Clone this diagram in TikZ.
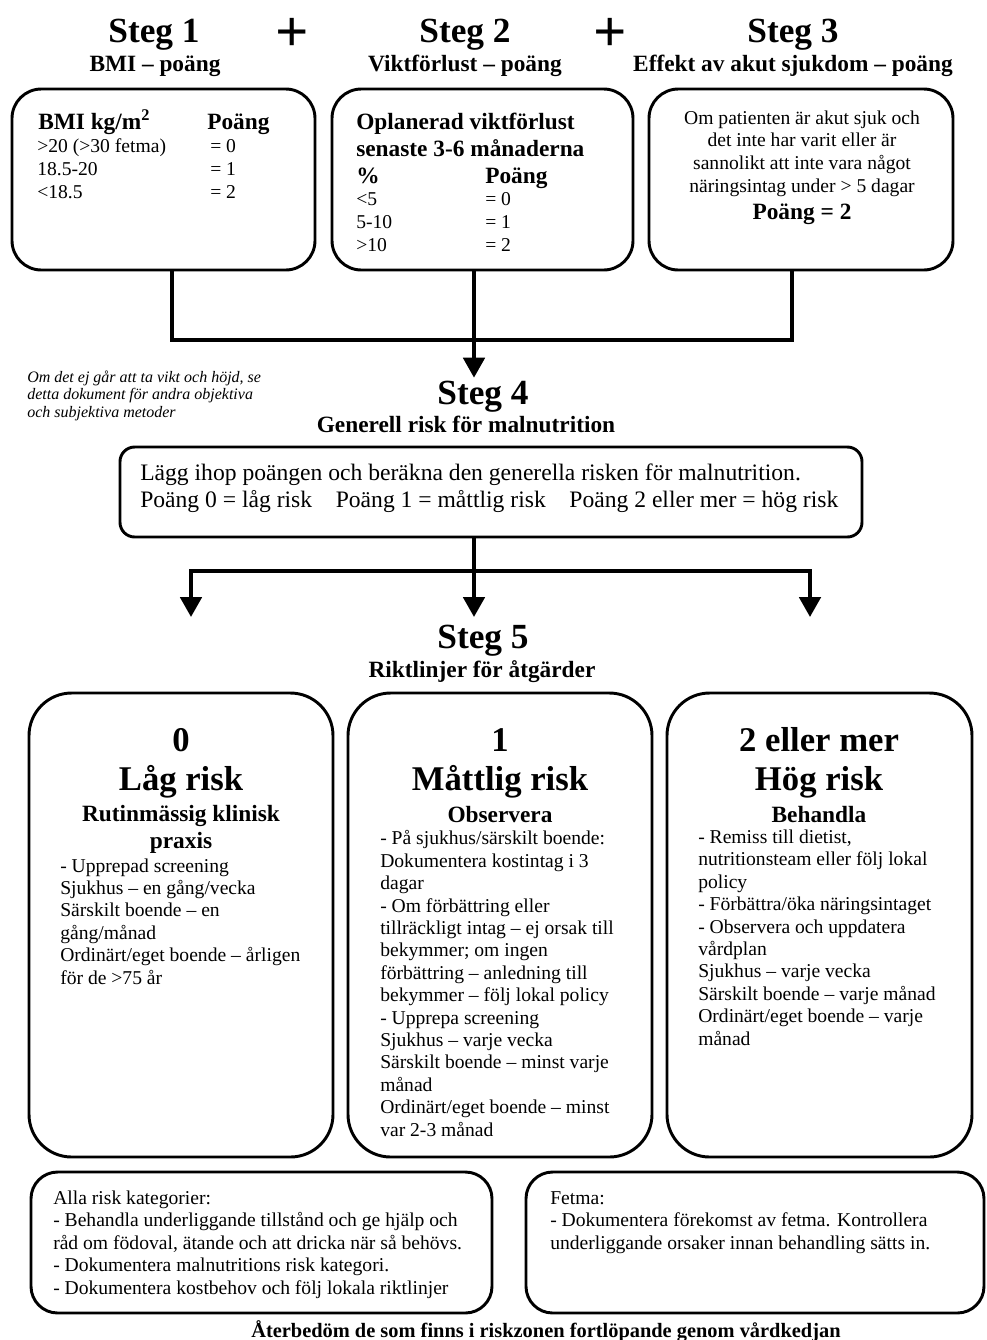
\documentclass[tikz,border=0pt]{standalone}
\usepackage{fontspec}
\setmainfont{Liberation Serif}
\usetikzlibrary{arrows.meta, positioning, fit}

\begin{document}
\begin{tikzpicture}[x=0.75pt, y=-0.75pt,
      >={Triangle[length=15pt, width=16pt]},
      box/.style={draw, line width=2.2pt, inner sep=0pt},
      link/.style={line width=3pt},
      hd/.style={font=\fontsize{26.5}{30}\selectfont\bfseries, inner sep=0pt, anchor=base},
      big/.style={font=\fontsize{26}{30}\selectfont\bfseries, inner sep=0pt, anchor=base},
      plus/.style={font=\fontsize{44}{48}\selectfont\bfseries, inner sep=0pt},
      sub/.style={font=\fontsize{17.5}{20}\selectfont\bfseries, inner sep=0pt, anchor=base},
      hdtxt/.style={font=\fontsize{17.5}{20}\selectfont\bfseries},
      rows/.style={font=\fontsize{14.7}{17.25}\selectfont},
      txt/.style={font=\fontsize{14.7}{16.8}\selectfont, inner sep=0pt, anchor=base west, align=left},
      note/.style={font=\fontsize{12}{13.1}\selectfont\itshape, inner sep=0pt, anchor=base west, align=left}]
    \useasboundingbox (0,0) rectangle (987,1340);
    % steg 1-3 (multi-line nodes are placed at their last baseline)
    \node[hd] (s1) at (154,42) {Steg 1};
    \node[hd] (s2) at (465,42) {Steg 2};
    \node[hd] (s3) at (793,42) {Steg 3};
    \node[plus] (p1) at (292,35) {+};
    \node[plus] (p2) at (610,35) {+};
    \node[sub] (s1t) at (155,71) {BMI – poäng};
    \node[sub] (s2t) at (465,71) {Viktförlust – poäng};
    \node[sub] (s3t) at (793,71) {Effekt av akut sjukdom – poäng};
    \node[box, rounded corners=22pt, fit={(12,89) (315,270)}] (bmi) {};
    \node[box, rounded corners=22pt, fit={(332,89) (633,270)}] (vikt) {};
    \node[box, rounded corners=22pt, fit={(649,89) (953,270)}] (eff) {};
    % BMI table
    \node[txt, hdtxt] (bmihd) at (38,129) {BMI kg/m\textsuperscript{2}};
    \node[txt, hdtxt] (bmipt) at (207,129) {Poäng};
    \node[txt, rows] (bmirows) at (37,198) {>20 (>30 fetma)\\18.5-20\\<18.5};
    \node[txt, rows] (bmival) at (210,198) {= 0\\= 1\\= 2};
    % viktforlust table
    \node[txt, hdtxt] (vkhd) at (356,183) {Oplanerad viktförlust\\senaste 3-6 månaderna\\\%};
    \node[txt, hdtxt] (vkpt) at (485,183) {Poäng};
    \node[txt, rows] (vkrows) at (356,251) {<5\\5-10\\>10};
    \node[txt, rows] (vkval) at (485,251) {= 0\\= 1\\= 2};
    % akut sjukdom
    \node[txt, anchor=base, align=center, font=\fontsize{14.7}{16.9}\selectfont] (efftxt) at (802,192) {Om patienten är akut sjuk och\\det inte har varit eller är\\sannolikt att inte vara något\\näringsintag under > 5 dagar};
    \node[sub] (effpt) at (802,219) {Poäng = 2};
    % join to steg 4
    \coordinate (jl) at (172,340);
    \coordinate (jm) at (474,340);
    \coordinate (jr) at (792,340);
    \draw[link] (bmi.south -| jl) -- (jl) -- (jr) -- (eff.south -| jr);
    \draw[link] (vikt.south -| jm) -- (jm);
    \node[note] (obs) at (27,417) {Om det ej går att ta vikt och höjd, se\\detta dokument för andra objektiva\\och subjektiva metoder};
    \node[hd, inner sep=2pt] (s4) at (483,404) {Steg 4};
    \draw[link, ->] (jm) -- (jm |- s4.north);
    \node[sub] (s4t) at (466,432) {Generell risk för malnutrition};
    \node[box, rounded corners=11pt, fit={(120,447) (862,537)}] (sum) {};
    \node[txt, font=\fontsize{17.7}{20.25}\selectfont] (sumtxt) at (140,507) {Lägg ihop poängen och beräkna den generella risken för malnutrition.\\Poäng 0 = låg risk\quad Poäng 1 = måttlig risk\quad Poäng 2 eller mer = hög risk};
    % split to steg 5
    \coordinate (kl) at (191,571);
    \coordinate (km) at (474,571);
    \coordinate (kr) at (810,571);
    \coordinate (al) at (191,617);
    \coordinate (am) at (474,617);
    \coordinate (ar) at (810,617);
    \draw[link, <->] (al) -- (kl) -- (kr) -- (ar);
    \draw[link, ->] (sum.south -| km) -- (am);
    \node[hd] (s5) at (483,648) {Steg 5};
    \node[sub] (s5t) at (482,677) {Riktlinjer för åtgärder};
    % risk boxes
    \node[box, rounded corners=32pt, fit={(29,693) (333,1157)}] (low) {};
    \node[box, rounded corners=32pt, fit={(348,693) (652,1157)}] (mid) {};
    \node[box, rounded corners=32pt, fit={(667,693) (972,1157)}] (high) {};
    \node[big] (low0) at (181,751) {0};
    \node[big] (lowt) at (181,790) {Låg risk};
    \node[sub, align=center] (lowh) at (181,848) {Rutinmässig klinisk\\praxis};
    \node[txt] (lowb) at (60,984) {- Upprepad screening\\Sjukhus – en gång/vecka\\Särskilt boende – en\\gång/månad\\Ordinärt/eget boende – årligen\\för de >75 år};
    \node[big] (mid1) at (500,751) {1};
    \node[big] (midt) at (500,790) {Måttlig risk};
    \node[sub] (midh) at (500,822) {Observera};
    \node[txt] (midb) at (380,1136) {- På sjukhus/särskilt boende:\\Dokumentera kostintag i 3\\dagar\\- Om förbättring eller\\tillräckligt intag – ej orsak till\\bekymmer; om ingen\\förbättring – anledning till\\bekymmer – följ lokal policy\\- Upprepa screening\\Sjukhus – varje vecka\\Särskilt boende – minst varje\\månad\\Ordinärt/eget boende – minst\\var 2-3 månad};
    \node[big] (high2) at (819,751) {2 eller mer};
    \node[big] (hight) at (819,790) {Hög risk};
    \node[sub] (highh) at (819,822) {Behandla};
    \node[txt] (highb) at (698,1045) {- Remiss till dietist,\\nutritionsteam eller följ lokal\\policy\\- Förbättra/öka näringsintaget\\- Observera och uppdatera\\vårdplan\\Sjukhus – varje vecka\\Särskilt boende – varje månad\\Ordinärt/eget boende – varje\\månad};
    % bottom notes
    \node[box, rounded corners=20pt, fit={(31,1172) (492,1313)}] (alla) {};
    \node[box, rounded corners=20pt, fit={(526,1172) (984,1313)}] (fetma) {};
    \node[txt] (allatxt) at (53,1294) {Alla risk kategorier:\\- Behandla underliggande tillstånd och ge hjälp och\\råd om födoval, ätande och att dricka när så behövs.\\- Dokumentera malnutritions risk kategori.\\- Dokumentera kostbehov och följ lokala riktlinjer};
    \node[txt] (fetmatxt) at (550,1249) {Fetma:\\- Dokumentera förekomst av fetma. Kontrollera\\underliggande orsaker innan behandling sätts in.};
    \node[sub, font=\fontsize{15.3}{18}\selectfont\bfseries] (foot) at (546,1337) {Återbedöm de som finns i riskzonen fortlöpande genom vårdkedjan};
  \end{tikzpicture}
\end{document}
